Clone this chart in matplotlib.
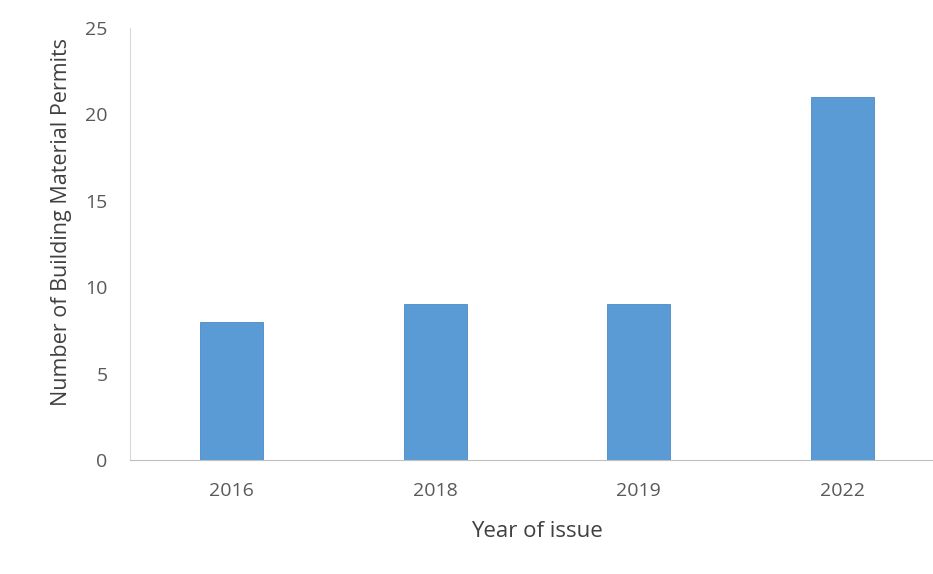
import matplotlib
matplotlib.use('Agg')
import matplotlib.pyplot as plt

years = ['2016', '2018', '2019', '2022']
permits = [8, 9, 9, 21]
y_ticks = [0, 5, 10, 15, 20, 25]

plt.rcParams['font.family'] = ['Open Sans', 'DejaVu Sans']

fig = plt.figure(figsize=(9.33, 5.74), dpi=100)
ax = fig.add_axes([0.1393, 0.1986, 0.8725, 0.7526])

x = range(len(years))
ax.bar(x, permits, width=0.31, color='#5B9BD5', edgecolor='#4A8AC8', linewidth=0.6, zorder=2)

ax.set_xlim(-0.5, len(years) - 0.5)
ax.set_ylim(0, 25)
ax.set_xticks(list(x))
ax.set_xticklabels(years)
ax.set_yticks(y_ticks)

for s in ['top', 'right']:
    ax.spines[s].set_visible(False)
ax.spines['left'].set_color('#D9D9D9')
ax.spines['bottom'].set_color('#BFBFBF')

ax.tick_params(axis='both', length=0, labelsize=14, colors='#595959')
ax.tick_params(axis='x', pad=16)
ax.tick_params(axis='y', pad=16)

ax.set_xlabel('Year of issue', fontsize=16, color='#404040', labelpad=15)
ax.set_ylabel('Number of Building Material Permits', fontsize=15.5, color='#404040')
# y title sits a bit above the middle of the axis
ax.yaxis.set_label_coords(-0.071, 0.55)

fig.savefig('out.png', dpi=100)
